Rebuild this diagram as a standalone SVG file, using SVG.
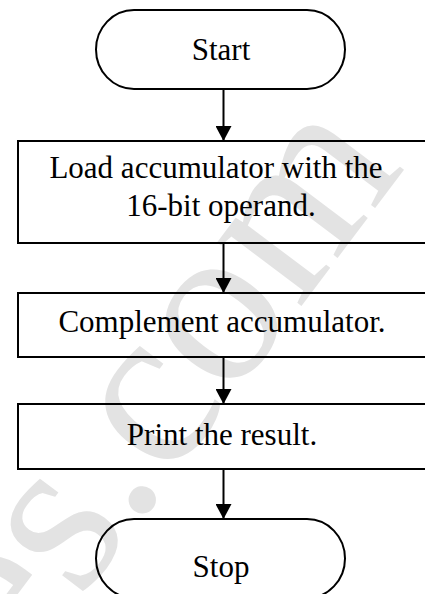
<svg xmlns="http://www.w3.org/2000/svg" width="425" height="594" viewBox="0 0 425 594">
<defs>
<style>
.shape{fill:none;stroke:#000;stroke-width:2}
.lbl{font-family:"Liberation Serif","Times New Roman",serif;font-size:31px;fill:#000;text-anchor:middle}
.wm{font-family:"Liberation Serif","Times New Roman",serif;font-size:230px;fill:#e3e3e3}
.conn{stroke:#000;stroke-width:2;fill:none}
</style>
<marker id="arr" markerWidth="16" markerHeight="16" refX="15" refY="8" orient="auto" markerUnits="userSpaceOnUse">
<path d="M0,0 L15,8 L0,16 Z" fill="#000"/>
</marker>
</defs>
<rect width="425" height="594" fill="#fff"/>
<text class="wm" transform="translate(18,682) rotate(-53)">es.com</text>
<g id="connectors">
<line class="conn" x1="223.5" y1="89" x2="223.5" y2="141" marker-end="url(#arr)"/>
<line class="conn" x1="223.5" y1="243" x2="223.5" y2="293" marker-end="url(#arr)"/>
<line class="conn" x1="223.5" y1="357" x2="223.5" y2="404" marker-end="url(#arr)"/>
<line class="conn" x1="223.5" y1="469" x2="223.5" y2="519" marker-end="url(#arr)"/>
</g>
<g id="start">
<rect class="shape" x="96" y="10" width="249" height="79" rx="38" ry="39.5"/>
<text class="lbl" x="221" y="60">Start</text>
</g>
<g id="load">
<rect class="shape" x="18" y="141" width="408" height="102"/>
<text class="lbl" x="216" y="178">Load accumulator with the</text>
<text class="lbl" x="221" y="216">16-bit operand.</text>
</g>
<g id="complement">
<rect class="shape" x="18" y="293" width="408" height="64"/>
<text class="lbl" x="222" y="332">Complement accumulator.</text>
</g>
<g id="print">
<rect class="shape" x="18" y="404" width="408" height="65"/>
<text class="lbl" x="222" y="445">Print the result.</text>
</g>
<g id="stop">
<rect class="shape" x="96" y="519" width="249" height="79" rx="38" ry="39.5"/>
<text class="lbl" x="221" y="577">Stop</text>
</g>
</svg>
